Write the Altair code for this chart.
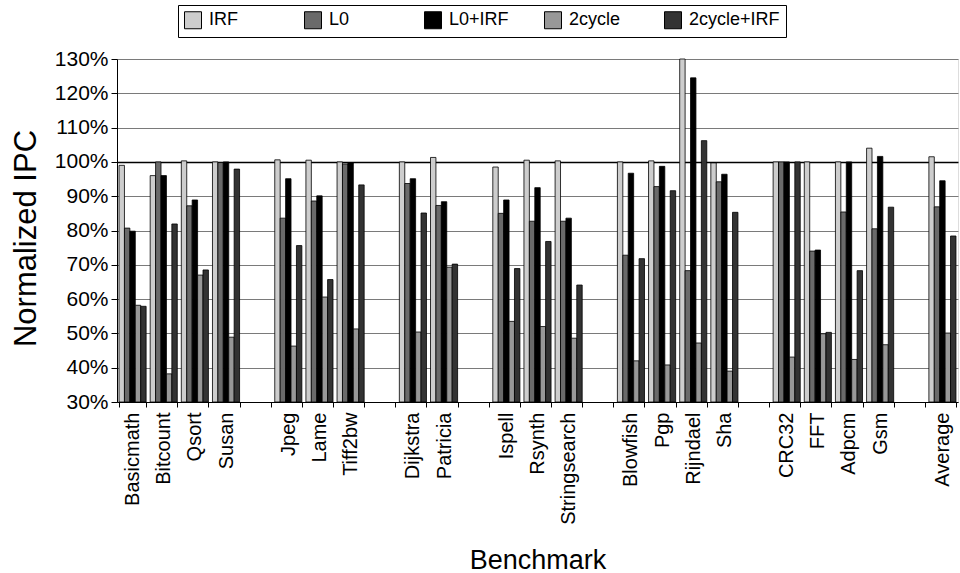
import altair as alt
import pandas as pd

# Category slots along x; blank slots separate the benchmark suites
categories = ["Basicmath", "Bitcount", "Qsort", "Susan", " ",
              "Jpeg", "Lame", "Tiff2bw", "  ",
              "Dijkstra", "Patricia", "   ",
              "Ispell", "Rsynth", "Stringsearch", "    ",
              "Blowfish", "Pgp", "Rijndael", "Sha", "     ",
              "CRC32", "FFT", "Adpcm", "Gsm", "      ",
              "Average"]

benchmarks = ["Basicmath", "Bitcount", "Qsort", "Susan", "Jpeg", "Lame", "Tiff2bw",
              "Dijkstra", "Patricia", "Ispell", "Rsynth", "Stringsearch",
              "Blowfish", "Pgp", "Rijndael", "Sha", "CRC32", "FFT", "Adpcm", "Gsm",
              "Average"]

series = ["IRF", "L0", "L0+IRF", "2cycle", "2cycle+IRF"]

# Normalized IPC (%) per configuration
irf = [99.0, 96.0, 100.3, 100.0, 100.6, 100.5, 100.0, 100.0, 101.3, 98.5, 100.5,
       100.3, 100.0, 100.3, 130.0, 99.7, 100.0, 100.0, 100.0, 104.0, 101.5]
l0 = [80.7, 100.0, 87.2, 99.8, 83.6, 88.6, 99.4, 93.7, 87.3, 85.0, 82.7,
      82.7, 72.8, 92.8, 68.3, 94.2, 100.0, 74.0, 85.4, 80.5, 86.9]
l0_irf = [79.8, 96.0, 88.9, 100.0, 95.1, 90.1, 99.7, 95.1, 88.4, 88.9, 92.5,
          83.6, 96.7, 98.7, 124.5, 96.4, 100.0, 74.3, 100.0, 101.6, 94.5]
two_cycle = [58.2, 38.2, 67.0, 48.9, 46.3, 60.6, 51.3, 50.4, 69.3, 53.5, 52.0,
             48.6, 42.0, 40.8, 47.2, 39.0, 43.1, 49.9, 42.4, 46.7, 50.1]
two_cycle_irf = [57.9, 81.9, 68.5, 97.9, 75.6, 65.7, 93.3, 85.1, 70.2, 68.9, 76.8,
                 64.1, 71.8, 91.6, 106.2, 85.3, 100.0, 50.3, 68.3, 86.8, 78.4]

colors = ["#cdcdcd", "#6a6a6a", "#000000", "#989898", "#333333"]
y_ticks = list(range(30, 131, 10))

rows = []
for name, vals in zip(series, [irf, l0, l0_irf, two_cycle, two_cycle_irf]):
    for b, v in zip(benchmarks, vals):
        rows.append({"benchmark": b, "config": name, "ipc": v})
df = pd.DataFrame(rows)

font = "Liberation Sans"

x_enc = alt.X(
    "benchmark:N",
    scale=alt.Scale(domain=categories, paddingInner=0.13, paddingOuter=0.065),
    axis=alt.Axis(
        title="Benchmark", labelAngle=-90, labelFontSize=20, labelFont=font,
        labelColor="black", labelPadding=5, tickBand="extent", tickSize=5,
        tickColor="black", domainColor="black", grid=False,
        titleFontSize=27, titleFont=font, titleFontWeight="normal",
        titleColor="black", titleY=166, titleBaseline="alphabetic",
    ),
)

y_enc = alt.Y(
    "ipc:Q",
    scale=alt.Scale(domain=[30, 130], zero=False, nice=False),
    axis=alt.Axis(
        title="Normalized IPC", values=y_ticks, labelExpr="datum.value + '%'",
        labelOverlap=False, labelFontSize=21, labelFont=font, labelColor="black",
        labelPadding=3, tickSize=6, tickColor="black", domainColor="black",
        grid=True,
        # the 100% baseline is drawn solid black, the other gridlines grey
        gridColor=alt.condition("datum.value === 100", alt.value("black"), alt.value("#7a7a7a")),
        gridWidth=alt.condition("datum.value === 100", alt.value(1.5), alt.value(1)),
        titleFontSize=31, titleFont=font, titleFontWeight="normal",
        titleColor="black", titleX=-82, titleY=179, titleBaseline="alphabetic",
    ),
)

chart = alt.Chart(df).mark_bar(stroke="black", strokeWidth=0.8).encode(
    x=x_enc,
    xOffset=alt.XOffset("config:N", sort=series,
                        scale=alt.Scale(domain=series, paddingInner=0, paddingOuter=0)),
    y=y_enc,
    y2=alt.datum(30),
    color=alt.Color(
        "config:N", sort=series,
        scale=alt.Scale(domain=series, range=colors),
        legend=alt.Legend(
            title=None, orient="none", legendX=61, legendY=-54,
            direction="horizontal", gridAlign="all", columnPadding=2,
            symbolType="square", symbolSize=289, symbolStrokeColor="black",
            symbolStrokeWidth=1, labelFontSize=18, labelFont=font,
            labelColor="black", labelOffset=7, padding=6,
            strokeColor="black", fillColor="white",
        ),
    ),
).properties(
    width=841, height=343,
    autosize=alt.AutoSizeParams(type="none"),
    padding={"left": 117, "top": 59, "right": 2, "bottom": 171},
).configure_view(stroke=None).configure(background="white")

chart.save("out.html", embed_options={"renderer": "svg", "actions": False})
